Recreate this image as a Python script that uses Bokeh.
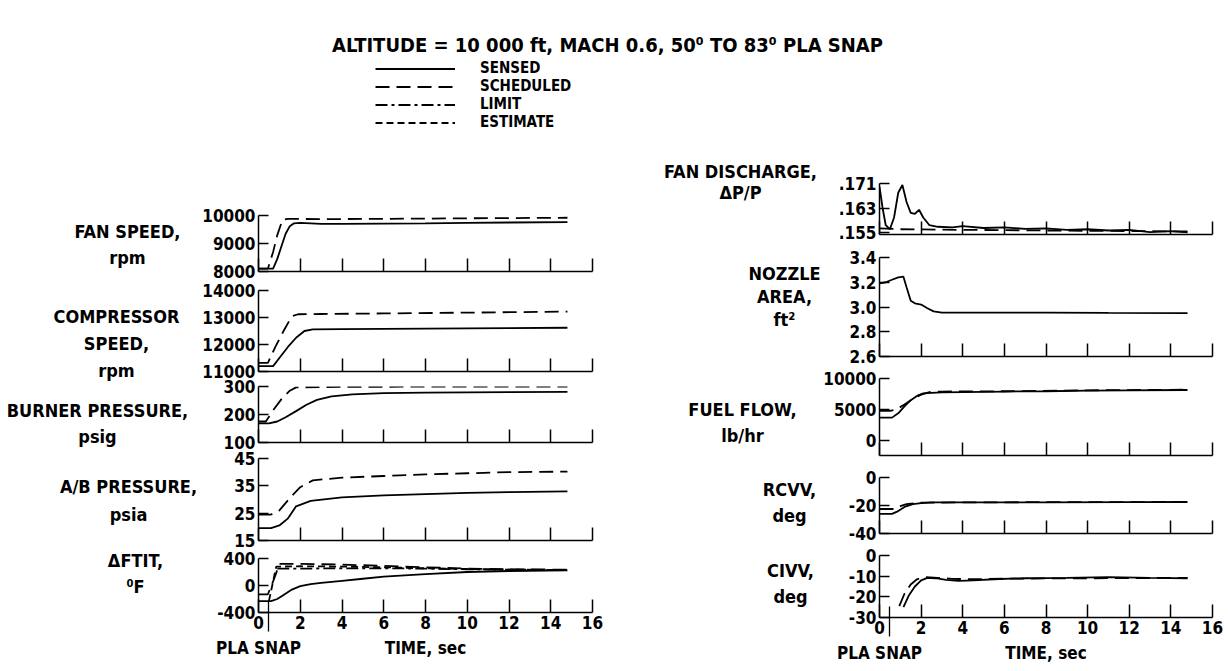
from bokeh.plotting import figure
from bokeh.models import (Range1d, FixedTicker, Label, Legend, LegendItem,
                          CustomJSTickFormatter, LinearAxis)
from bokeh.layouts import column, row
from bokeh.embed import file_html
from bokeh.resources import INLINE

FONT = "DejaVu Sans Condensed, Liberation Sans Narrow, Liberation Sans"

# ---------------- text / ticks ----------------
TITLE = "ALTITUDE = 10 000 ft, MACH 0.6, 50\u2070 TO 83\u2070 PLA SNAP"
legend_labels = ["SENSED", "SCHEDULED", "LIMIT", "ESTIMATE"]
x_ticks = [0, 2, 4, 6, 8, 10, 12, 14, 16]
x_tick_labels = ["0", "2", "4", "6", "8", "10", "12", "14", "16"]
caption_ticks = [0, 8]
caption_labels = ["PLA SNAP", "TIME, sec"]
pla_snap_time = 0.5

# ---------------- left column data ----------------
fan_sensed_t = [0, 0.7, 0.9, 1.1, 1.3, 1.5, 1.7, 2.0, 3, 4, 6, 8, 10, 12, 14.8]
fan_sensed = [8100, 8100, 8450, 8900, 9350, 9620, 9720, 9740, 9700, 9700, 9710, 9720, 9740, 9750, 9760]
fan_sched_t = [0, 0.45, 0.7, 0.9, 1.15, 1.4, 3, 6, 10, 14.8]
fan_sched = [8100, 8100, 8700, 9300, 9850, 9880, 9870, 9880, 9900, 9920]

comp_sensed_t = [0, 0.7, 1.0, 1.4, 1.8, 2.2, 2.6, 4, 6, 8, 10, 12, 14.8]
comp_sensed = [11200, 11200, 11500, 11900, 12250, 12500, 12560, 12570, 12580, 12590, 12600, 12610, 12620]
comp_sched_t = [0, 0.45, 0.8, 1.2, 1.6, 1.9, 3, 6, 10, 14.8]
comp_sched = [11320, 11320, 11900, 12500, 13050, 13120, 13130, 13150, 13180, 13220]

burner_sensed_t = [0, 0.5, 0.9, 1.3, 1.8, 2.3, 2.8, 3.5, 4.5, 6, 8, 10, 12, 14.8]
burner_sensed = [168, 168, 175, 190, 212, 235, 252, 265, 272, 276, 278, 279, 280, 281]
burner_sched_t = [0, 0.35, 0.7, 1.1, 1.5, 1.8, 3, 6, 10, 14.8]
burner_sched = [175, 175, 215, 255, 285, 297, 298, 299, 300, 300]

ab_sensed_t = [0, 0.6, 1.0, 1.4, 1.8, 2.5, 4, 6, 8, 10, 12, 14.8]
ab_sensed = [19.5, 19.5, 20.5, 23, 27.5, 29.5, 30.8, 31.5, 32, 32.4, 32.7, 33.0]
ab_sched_t = [0, 0.6, 1.0, 1.5, 2.0, 2.6, 4, 6, 8, 10, 12, 14.8]
ab_sched = [24.5, 24.5, 26, 30.5, 34.5, 37, 38, 38.6, 39.2, 39.6, 40, 40.2]

ftit_sensed_t = [0, 0.6, 0.9, 1.2, 1.6, 2.0, 2.5, 3, 4, 5, 6, 8, 10, 12, 14.8]
ftit_sensed = [-230, -230, -200, -140, -60, -10, 20, 40, 70, 100, 130, 170, 200, 215, 225]
ftit_sched_t = [0, 0.45, 0.75, 1.0, 2, 4, 6, 8, 10, 12, 14.8]
ftit_sched = [-130, -130, 100, 320, 320, 310, 290, 270, 250, 240, 235]
ftit_limit_t = [0.9, 2, 4, 6, 8, 10, 12, 14.8]
ftit_limit = [250, 250, 255, 255, 250, 240, 235, 230]
ftit_est_t = [0.5, 0.85, 2, 4, 6, 8, 10, 12, 14.8]
ftit_est = [-230, 280, 285, 280, 270, 255, 245, 235, 230]

# ---------------- right column data ----------------
fd_t = [0, 0.15, 0.3, 0.5, 0.7, 0.9, 1.1, 1.3, 1.5, 1.7, 1.9, 2.1, 2.4, 2.8, 3.5, 4, 5, 6,
        7, 8, 9, 10, 11, 12, 13, 14, 14.8]
fd_sensed = [0.170, 0.163, 0.1575, 0.1562, 0.160, 0.168, 0.1705, 0.165, 0.1615, 0.1612,
             0.1625, 0.160, 0.1575, 0.157, 0.1568, 0.1572, 0.1566, 0.1568, 0.1563, 0.1565,
             0.156, 0.1562, 0.1558, 0.156, 0.1553, 0.1556, 0.1552]
fd_sched_t = [0, 1, 4, 8, 12, 14.8]
fd_sched = [0.1565, 0.1562, 0.1560, 0.1558, 0.1556, 0.1555]

noz_t = [0, 0.3, 0.6, 0.9, 1.15, 1.3, 1.5, 1.7, 2.0, 2.3, 2.6, 3, 5, 8, 11, 14.8]
noz_sensed = [3.19, 3.20, 3.22, 3.24, 3.245, 3.16, 3.05, 3.03, 3.02, 2.99, 2.965, 2.955,
              2.955, 2.955, 2.952, 2.95]

fuel_sensed_t = [0, 0.6, 0.9, 1.2, 1.5, 1.8, 2.1, 2.5, 3, 4, 6, 8, 10, 12, 14.8]
fuel_sensed = [3700, 3700, 4400, 5500, 6500, 7200, 7600, 7700, 7750, 7800, 7900, 7950, 8050, 8100, 8150]
fuel_sched_t = [0, 0.5, 0.8, 1.2, 1.6, 2.0, 2.4, 3, 6, 10, 14.8]
fuel_sched = [4800, 4800, 5000, 5800, 6700, 7400, 7800, 7900, 7950, 8100, 8200]

rcvv_sensed_t = [0, 0.6, 0.9, 1.2, 1.6, 2.0, 2.5, 4, 8, 12, 14.8]
rcvv_sensed = [-26, -26, -24, -21, -19, -18.3, -17.8, -17.8, -17.8, -17.6, -17.5]
rcvv_sched_t = [0, 0.7, 1.0, 1.3, 2.0, 4, 8, 14.8]
rcvv_sched = [-22.5, -22.5, -20.5, -19, -18, -17.8, -17.6, -17.5]

civv_sensed_t = [1.15, 1.4, 1.7, 2.0, 2.3, 2.7, 3.2, 3.8, 4.5, 5.5, 7, 9, 11, 13, 14.8]
civv_sensed = [-25, -19.5, -15, -12, -10.8, -11, -11.8, -12.3, -12, -11.5, -11, -10.8, -10.5, -10.8, -11]
civv_sched_t = [0.95, 1.2, 1.5, 1.8, 2.2, 2.8, 3.5, 4.5, 6, 14.8]
civv_sched = [-24.5, -18.5, -14, -11.5, -10.5, -10.8, -11.3, -11.5, -11.2, -10.8]

# ---------------- panel definitions ----------------
left_panels = [
    dict(name="FAN SPEED,\nrpm", yr=(8000, 10000), yt=[8000, 9000, 10000],
         yl=["8000", "9000", "10000"],
         series=[(fan_sensed_t, fan_sensed, "sensed"), (fan_sched_t, fan_sched, "scheduled")]),
    dict(name="COMPRESSOR\nSPEED,\nrpm", yr=(11000, 14000), yt=[11000, 12000, 13000, 14000],
         yl=["11000", "12000", "13000", "14000"],
         series=[(comp_sensed_t, comp_sensed, "sensed"), (comp_sched_t, comp_sched, "scheduled")]),
    dict(name="BURNER PRESSURE,\npsig", yr=(100, 300), yt=[100, 200, 300],
         yl=["100", "200", "300"],
         series=[(burner_sensed_t, burner_sensed, "sensed"), (burner_sched_t, burner_sched, "scheduled")]),
    dict(name="A/B PRESSURE,\npsia", yr=(15, 45), yt=[15, 25, 35, 45],
         yl=["15", "25", "35", "45"],
         series=[(ab_sensed_t, ab_sensed, "sensed"), (ab_sched_t, ab_sched, "scheduled")]),
    dict(name="\u0394FTIT,\n\u2070F", yr=(-400, 400), yt=[-400, 0, 400],
         yl=["-400", "0", "400"],
         series=[(ftit_sensed_t, ftit_sensed, "sensed"), (ftit_sched_t, ftit_sched, "scheduled"),
                 (ftit_limit_t, ftit_limit, "limit"), (ftit_est_t, ftit_est, "estimate")]),
]
right_panels = [
    dict(name="FAN DISCHARGE,\n\u0394P/P", yr=(0.1545, 0.171), yt=[0.155, 0.163, 0.171],
         yl=[".155", ".163", ".171"],
         series=[(fd_t, fd_sensed, "sensed"), (fd_sched_t, fd_sched, "scheduled")]),
    dict(name="NOZZLE\nAREA,\nft\u00b2", yr=(2.6, 3.4), yt=[2.6, 2.8, 3.0, 3.2, 3.4],
         yl=["2.6", "2.8", "3.0", "3.2", "3.4"],
         series=[(noz_t, noz_sensed, "sensed")]),
    dict(name="FUEL FLOW,\nlb/hr", yr=(-2400, 10000), yt=[0, 5000, 10000],
         yl=["0", "5000", "10000"],
         series=[(fuel_sensed_t, fuel_sensed, "sensed"), (fuel_sched_t, fuel_sched, "scheduled")]),
    dict(name="RCVV,\ndeg", yr=(-40, 0), yt=[-40, -20, 0],
         yl=["-40", "-20", "0"],
         series=[(rcvv_sensed_t, rcvv_sensed, "sensed"), (rcvv_sched_t, rcvv_sched, "scheduled")]),
    dict(name="CIVV,\ndeg", yr=(-30, 0), yt=[-30, -20, -10, 0],
         yl=["-30", "-20", "-10", "0"],
         series=[(civv_sensed_t, civv_sensed, "sensed"), (civv_sched_t, civv_sched, "scheduled")]),
]

# ---------------- styles / layout (page pixels, origin top-left) ----------------
DASH = {"sensed": "solid", "scheduled": "14 7", "limit": "12 4 3 4", "estimate": "7 4"}
LINE_W = 1.8
TICK_FS = "17px"
LABEL_FS = "18px"
FRAME_W = 334
ROW_TOP = 150
TITLE_Y = 44
LEGEND_BOTTOM = 131
COLS = {
    "L": dict(x0=0, frame_x=258, border=62, right=12,
              frames=[(215, 271), (290, 371), (386, 442), (458, 540), (558, 612)],
              last_bottom=52,
              label_pos=[(127, 244, 1.25), (116, 343, 1.3), (97, 423, 1.25),
                         (128, 500, 1.3), (135, 573, 1.25)]),
    "R": dict(x0=604, frame_x=878, border=58, right=16,
              frames=[(183, 234), (257, 356), (378, 455), (477, 533), (555, 617)],
              last_bottom=50,
              label_pos=[(740, 181, 1.0), (784, 296, 1.08), (742, 422, 1.2),
                         (789, 502, 1.25), (790, 583, 1.25)]),
}
TXT = dict(text_font=FONT, text_font_style="bold", text_color="black")


def style_axis(ax):
    ax.axis_line_width = 1.5
    ax.axis_line_color = "black"
    ax.major_tick_line_width = 1.5
    ax.major_tick_line_color = "black"
    ax.major_tick_out = 0
    ax.minor_tick_in = 0
    ax.minor_tick_out = 0
    ax.major_label_text_font = FONT
    ax.major_label_text_font_style = "bold"
    ax.major_label_text_color = "black"
    ax.major_label_text_font_size = TICK_FS


def build_column(side, panels):
    c = COLS[side]
    frames = c["frames"]
    n = len(frames)
    bounds = [ROW_TOP]
    for i in range(n - 1):
        bounds.append((frames[i][1] + frames[i + 1][0]) // 2)
    bounds.append(frames[-1][1] + c["last_bottom"])
    bl = c["border"]
    figs = []
    for i, spec in enumerate(panels):
        ftop, fbot = frames[i]
        top, fh, bot = ftop - bounds[i], fbot - ftop, bounds[i + 1] - fbot
        bottom = i == n - 1
        p = figure(width=bl + FRAME_W + c["right"], height=top + fh + bot,
                   x_range=Range1d(0, 16), y_range=Range1d(*spec["yr"]),
                   min_border_left=bl, min_border_right=c["right"],
                   min_border_top=top, min_border_bottom=bot,
                   toolbar_location=None, tools="", output_backend="svg", title=None)
        p.outline_line_color = None
        p.grid.visible = False
        xa, ya = p.xaxis[0], p.yaxis[0]
        style_axis(xa)
        style_axis(ya)
        ya.ticker = FixedTicker(ticks=spec["yt"])
        ya.major_label_overrides = {t: l for t, l in zip(spec["yt"], spec["yl"])}
        ya.major_tick_in = 10
        ya.major_label_standoff = 3
        xa.major_tick_in = 13
        xa.ticker = FixedTicker(ticks=x_ticks)
        if bottom:
            xa.major_label_overrides = {t: l for t, l in zip(x_ticks, x_tick_labels)}
            xa.major_label_standoff = 3
            # caption axis: PLA SNAP / TIME labels, with the PLA-snap arrow shaft as a minor tick
            cap = LinearAxis(ticker=FixedTicker(ticks=caption_ticks, minor_ticks=[pla_snap_time]))
            style_axis(cap)
            cap.major_label_overrides = {t: l for t, l in zip(caption_ticks, caption_labels)}
            cap.axis_line_color = None
            cap.major_tick_line_color = None
            cap.major_tick_in = 0
            cap.major_label_standoff = 6
            cap.minor_tick_in = 30
            cap.minor_tick_out = 0
            cap.minor_tick_line_color = "black"
            cap.minor_tick_line_width = 1.3
            p.add_layout(cap, "below")
        else:
            xa.formatter = CustomJSTickFormatter(code="return ''")
            xa.major_label_text_font_size = "1px"
            xa.major_label_standoff = 0
        for t, v, kind in spec["series"]:
            p.line(t, v, line_color="black", line_width=LINE_W, line_dash=DASH[kind])
        figs.append(p)

    # one tall label figure to the left of the panel column
    lab_w = c["frame_x"] - bl - c["x0"]
    h = bounds[-1] - ROW_TOP
    lf = figure(width=lab_w, height=h, x_range=Range1d(0, lab_w), y_range=Range1d(0, h),
                min_border=0, toolbar_location=None, tools="", output_backend="svg",
                title=None, x_axis_type=None, y_axis_type=None)
    lf.outline_line_color = None
    lf.grid.visible = False
    for spec, (cx, cy, lh) in zip(panels, c["label_pos"]):
        lf.add_layout(Label(x=cx - c["x0"], y=h - (cy - ROW_TOP), text=spec["name"],
                            text_align="center", text_baseline="middle",
                            text_font_size=LABEL_FS, text_line_height=lh, **TXT))
    return lf, column(*figs)


left_lab, left_col = build_column("L", left_panels)
right_lab, right_col = build_column("R", right_panels)

# ---------------- header: title + legend ----------------
hdr = figure(width=1228, height=ROW_TOP, x_range=Range1d(0, 1228), y_range=Range1d(0, ROW_TOP),
             min_border=0, toolbar_location=None, tools="", output_backend="svg", title=None,
             x_axis_type=None, y_axis_type=None)
hdr.outline_line_color = None
hdr.grid.visible = False
hdr.add_layout(Label(x=607, y=ROW_TOP - TITLE_Y, text=TITLE, text_align="center",
                     text_baseline="middle", text_font_size="20px", **TXT))
items = []
for lab, kind in zip(legend_labels, ["sensed", "scheduled", "limit", "estimate"]):
    r = hdr.line(ftit_sensed_t, ftit_sensed, line_color="black", line_width=LINE_W,
                 line_dash=DASH[kind], visible=False)
    items.append(LegendItem(label=lab, renderers=[r]))
leg = Legend(items=items, location=(375, ROW_TOP - LEGEND_BOTTOM), glyph_width=80,
             glyph_height=15, label_height=15, label_standoff=25, padding=0, margin=0,
             spacing=0, border_line_color=None, background_fill_alpha=0,
             inactive_fill_alpha=0, label_text_font=FONT, label_text_font_style="bold",
             label_text_font_size="15px", label_text_color="black")
hdr.add_layout(leg)

layout = column(hdr, row(left_lab, left_col, right_lab, right_col))
open("out.html", "w").write(file_html(layout, INLINE))
